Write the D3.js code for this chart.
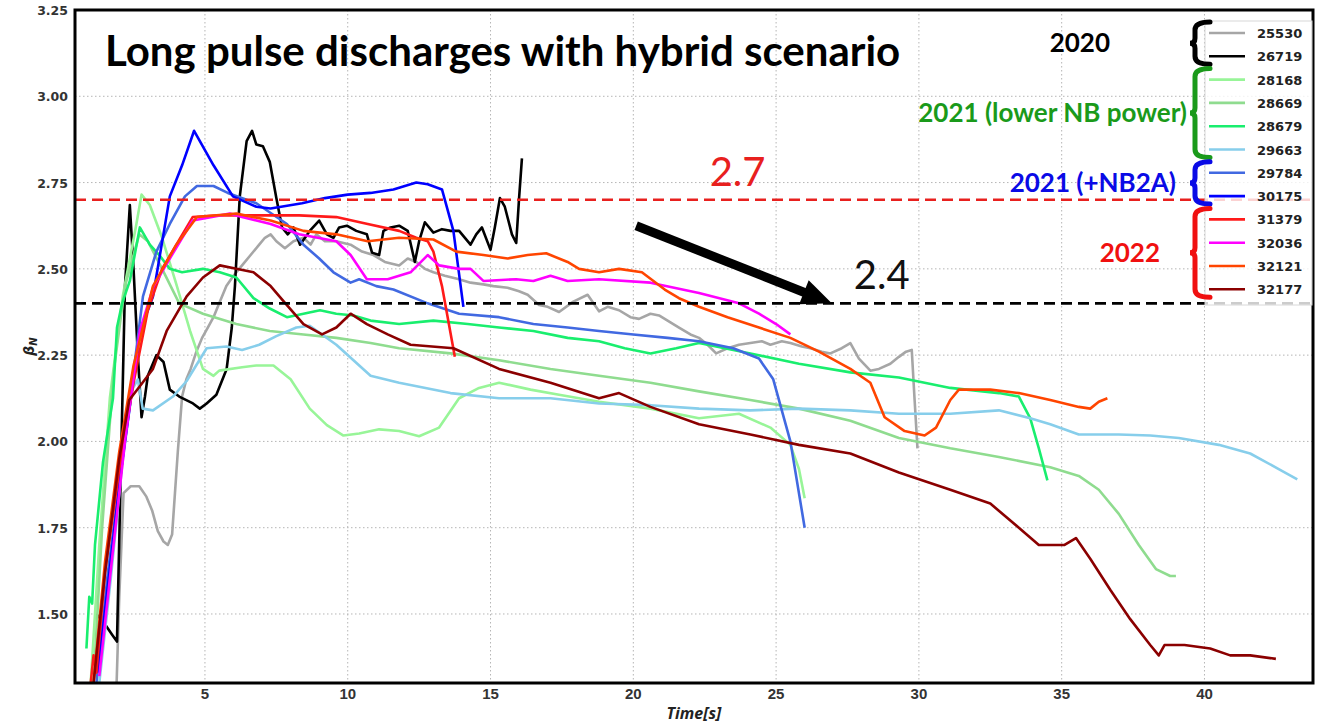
<!DOCTYPE html>
<html>
<head>
<meta charset="utf-8">
<script src="https://cdn.jsdelivr.net/npm/d3@7"></script>
<style>
  body { margin: 0; background: #fff; }
  svg { display: block; }
</style>
</head>
<body>
<div id="chart"></div>
<script>
// shot numbers and their line colours, in legend order
const shots = ["25530", "26719", "28168", "28669", "28679", "29663",
               "29784", "30175", "31379", "32036", "32121", "32177"];
const colors = ["#a6a6a6", "#000000", "#98f598", "#8fdc8f", "#19ee6e", "#87ceeb",
                "#4169e1", "#0000ff", "#ff1a1a", "#ff00ff", "#ff4500", "#8b0000"];

const xTicks = [5, 10, 15, 20, 25, 30, 35, 40];
const yTicks = [1.5, 1.75, 2.0, 2.25, 2.5, 2.75, 3.0, 3.25];
const refLevels = [2.7, 2.4];

// [time s, beta_N]
const s25530 = [[1.9,1.28],[2.0,1.55],[2.15,1.85],[2.4,1.87],[2.7,1.87],[2.95,1.84],[3.15,1.80],[3.35,1.74],[3.55,1.71],[3.7,1.70],[3.85,1.73],[3.95,1.85],[4.05,1.97],[4.2,2.13],[4.35,2.18],[4.5,2.21],[4.7,2.26],[4.9,2.30],[5.1,2.33],[5.3,2.36],[5.5,2.40],[5.75,2.45],[6.0,2.48],[6.3,2.51],[6.6,2.54],[6.9,2.57],[7.1,2.59],[7.3,2.60],[7.5,2.58],[7.8,2.56],[8.1,2.58],[8.45,2.59],[8.7,2.57],[8.9,2.60],[9.2,2.58],[9.6,2.58],[10.1,2.57],[10.5,2.55],[10.9,2.54],[11.3,2.52],[11.8,2.51],[12.1,2.53],[12.4,2.52],[12.7,2.50],[13.0,2.49],[13.4,2.48],[13.9,2.47],[14.3,2.46],[14.75,2.455],[15.1,2.45],[15.6,2.445],[16.0,2.435],[16.3,2.425],[16.7,2.395],[17.0,2.39],[17.4,2.375],[17.9,2.405],[18.4,2.425],[18.8,2.377],[19.1,2.39],[19.5,2.38],[19.9,2.36],[20.2,2.355],[20.6,2.37],[20.9,2.365],[21.3,2.345],[21.6,2.33],[22.0,2.31],[22.3,2.30],[22.6,2.28],[22.9,2.255],[23.3,2.27],[23.7,2.28],[24.1,2.285],[24.5,2.29],[24.8,2.28],[25.2,2.29],[25.5,2.285],[25.9,2.275],[26.2,2.27],[26.6,2.26],[26.9,2.255],[27.3,2.27],[27.6,2.285],[27.9,2.24],[28.3,2.205],[28.6,2.21],[29.0,2.225],[29.3,2.245],[29.55,2.26],[29.75,2.265],[29.85,2.12],[29.95,1.98]];
const s26719 = [[1.2,1.50],[1.5,1.47],[1.75,1.44],[1.92,1.42],[2.05,1.9],[2.2,2.45],[2.37,2.685],[2.5,2.50],[2.65,2.25],[2.78,2.07],[2.9,2.13],[3.0,2.19],[3.3,2.25],[3.55,2.23],[3.77,2.15],[4.1,2.13],[4.58,2.11],[4.82,2.095],[5.06,2.11],[5.4,2.135],[5.76,2.21],[5.94,2.33],[6.05,2.45],[6.22,2.71],[6.46,2.87],[6.65,2.90],[6.8,2.86],[7.03,2.855],[7.27,2.81],[7.5,2.705],[7.7,2.62],[7.9,2.60],[8.1,2.62],[8.33,2.57],[8.67,2.61],[9.0,2.64],[9.27,2.60],[9.5,2.59],[9.7,2.62],[9.97,2.625],[10.3,2.61],[10.67,2.60],[10.85,2.547],[11.1,2.54],[11.25,2.61],[11.5,2.62],[11.8,2.625],[12.1,2.61],[12.35,2.52],[12.5,2.58],[12.7,2.635],[13.0,2.605],[13.3,2.615],[13.6,2.61],[13.9,2.61],[14.3,2.57],[14.5,2.60],[14.7,2.62],[15.0,2.555],[15.15,2.62],[15.33,2.705],[15.5,2.68],[15.75,2.60],[15.9,2.575],[16.0,2.705],[16.1,2.82]];
const s28168 = [[1.0,1.30],[1.3,1.7],[1.67,2.125],[2.12,2.42],[2.6,2.63],[2.78,2.715],[3.07,2.685],[3.5,2.59],[4.0,2.455],[4.48,2.32],[4.93,2.21],[5.3,2.19],[5.5,2.205],[6.3,2.215],[6.8,2.22],[7.4,2.22],[8.0,2.18],[8.67,2.095],[9.27,2.047],[9.85,2.017],[10.4,2.023],[11.1,2.035],[11.8,2.03],[12.5,2.015],[13.2,2.04],[13.9,2.125],[14.6,2.155],[15.3,2.17],[16.4,2.15],[17.4,2.135],[18.8,2.115],[20.6,2.095],[22.3,2.067],[23.7,2.08],[24.8,2.04],[25.5,1.99],[25.8,1.92],[26.0,1.835]];
const s28669 = [[1.1,1.30],[1.4,1.75],[1.8,2.2],[2.2,2.45],[2.7,2.60],[3.0,2.58],[3.5,2.50],[4.1,2.40],[4.93,2.37],[6.1,2.34],[7.27,2.32],[8.45,2.31],[9.6,2.30],[10.8,2.285],[11.8,2.27],[13.6,2.255],[15.3,2.235],[17.1,2.21],[18.8,2.19],[20.6,2.17],[22.3,2.145],[24.1,2.12],[25.8,2.095],[27.6,2.06],[29.3,2.01],[31.1,1.98],[32.8,1.955],[34.6,1.925],[35.6,1.90],[36.3,1.86],[37.0,1.79],[37.7,1.70],[38.3,1.63],[38.8,1.61],[39.0,1.61]];
const s28679 = [[0.85,1.40],[0.95,1.55],[1.05,1.53],[1.15,1.70],[1.43,1.94],[1.78,2.125],[1.92,2.33],[2.1,2.40],[2.37,2.465],[2.72,2.62],[3.07,2.57],[3.4,2.54],[3.77,2.50],[4.2,2.49],[4.93,2.50],[5.52,2.49],[6.1,2.475],[6.7,2.415],[7.27,2.385],[7.87,2.36],[8.45,2.37],[9.03,2.38],[9.6,2.37],[10.2,2.365],[10.8,2.35],[11.8,2.34],[13.0,2.35],[14.2,2.34],[15.3,2.33],[16.5,2.32],[17.7,2.30],[18.8,2.29],[19.7,2.27],[20.6,2.255],[21.5,2.27],[22.3,2.285],[23.2,2.27],[24.1,2.255],[25.8,2.225],[27.6,2.20],[29.3,2.185],[31.1,2.155],[32.8,2.14],[33.5,2.13],[33.9,2.067],[34.2,1.98],[34.5,1.887]];
const s29663 = [[1.3,1.30],[1.7,1.6],[2.1,1.93],[2.45,2.15],[2.65,2.18],[2.82,2.095],[3.18,2.09],[3.88,2.13],[4.36,2.175],[5.06,2.27],[5.76,2.275],[6.3,2.265],[6.9,2.28],[7.5,2.305],[8.2,2.33],[8.67,2.335],[9.6,2.28],[10.8,2.19],[11.8,2.17],[13.6,2.14],[15.3,2.125],[17.1,2.125],[18.8,2.11],[20.6,2.105],[22.3,2.095],[24.1,2.09],[25.8,2.095],[27.6,2.09],[29.3,2.08],[31.1,2.08],[32.8,2.09],[33.9,2.067],[34.6,2.05],[35.6,2.02],[37.0,2.02],[38.1,2.017],[39.1,2.01],[40.5,1.99],[41.6,1.965],[42.6,1.92],[43.25,1.89]];
const s29784 = [[1.2,1.30],[1.6,1.62],[2.1,1.94],[2.5,2.2],[2.83,2.42],[3.3,2.55],[3.77,2.63],[4.3,2.71],[4.72,2.74],[5.3,2.74],[5.8,2.72],[6.8,2.69],[7.87,2.63],[8.45,2.57],[9.0,2.53],[9.5,2.49],[10.1,2.46],[10.4,2.47],[11.0,2.45],[11.6,2.44],[12.8,2.40],[13.9,2.37],[15.3,2.36],[16.5,2.34],[17.7,2.33],[18.8,2.32],[20.0,2.31],[21.2,2.30],[22.3,2.29],[23.5,2.27],[24.4,2.24],[24.9,2.18],[25.5,2.00],[26.0,1.75]];
const s30175 = [[1.25,1.33],[1.43,1.46],[2.1,1.94],[2.73,2.32],[3.18,2.42],[3.77,2.71],[4.2,2.80],[4.62,2.90],[5.3,2.80],[5.98,2.71],[6.8,2.68],[7.3,2.675],[8.4,2.69],[9.2,2.705],[10.0,2.715],[10.8,2.72],[11.6,2.73],[12.4,2.75],[12.8,2.745],[13.3,2.73],[13.7,2.61],[14.05,2.39]];
const s31379 = [[1.0,1.30],[1.1,1.38],[1.2,1.33],[1.5,1.62],[2.0,1.92],[2.5,2.17],[3.0,2.38],[3.5,2.50],[4.0,2.57],[4.57,2.65],[5.5,2.655],[7.3,2.655],[8.3,2.655],[9.6,2.65],[10.7,2.63],[11.8,2.61],[12.4,2.59],[12.8,2.58],[13.0,2.55],[13.3,2.45],[13.75,2.245]];
const s32036 = [[1.3,1.32],[1.8,1.7],[2.2,2.0],[2.72,2.32],[3.2,2.45],[3.77,2.53],[4.57,2.64],[5.87,2.66],[6.3,2.65],[7.3,2.63],[8.3,2.60],[9.6,2.58],[10.1,2.54],[10.67,2.47],[11.4,2.47],[12.2,2.49],[12.8,2.54],[13.2,2.51],[13.9,2.50],[14.3,2.50],[14.75,2.465],[15.9,2.47],[16.5,2.465],[17.1,2.48],[17.7,2.465],[18.8,2.47],[20.6,2.46],[22.3,2.43],[23.7,2.40],[24.4,2.37],[25.0,2.34],[25.5,2.31]];
const s32121 = [[1.1,1.30],[1.5,1.65],[2.0,1.97],[2.5,2.22],[3.18,2.45],[4.0,2.57],[4.72,2.65],[6.1,2.66],[7.3,2.64],[8.45,2.61],[9.6,2.60],[10.7,2.58],[11.8,2.59],[13.0,2.585],[13.8,2.55],[14.75,2.54],[15.6,2.53],[16.3,2.54],[16.95,2.545],[17.7,2.52],[18.1,2.50],[18.8,2.49],[19.5,2.50],[20.3,2.49],[21.1,2.44],[21.6,2.415],[22.3,2.39],[23.3,2.36],[24.4,2.33],[25.5,2.30],[26.5,2.26],[27.6,2.21],[28.3,2.17],[28.8,2.07],[29.5,2.03],[30.2,2.017],[30.6,2.04],[31.1,2.12],[31.4,2.15],[32.5,2.15],[33.5,2.14],[34.6,2.12],[35.6,2.10],[36.0,2.095],[36.3,2.115],[36.6,2.125]];
const s32177 = [[1.1,1.30],[1.5,1.62],[2.0,1.95],[2.35,2.12],[2.72,2.16],[3.18,2.21],[3.66,2.32],[4.36,2.42],[4.93,2.475],[5.52,2.51],[6.1,2.50],[6.7,2.49],[7.3,2.45],[7.87,2.395],[8.45,2.34],[9.1,2.31],[9.6,2.33],[10.1,2.37],[10.67,2.34],[11.4,2.31],[12.2,2.28],[13.7,2.27],[15.3,2.21],[17.1,2.17],[18.8,2.125],[19.5,2.14],[20.6,2.10],[22.3,2.05],[24.1,2.02],[25.8,1.99],[27.6,1.965],[29.3,1.91],[31.1,1.86],[32.5,1.82],[33.5,1.75],[34.2,1.70],[35.1,1.70],[35.5,1.72],[36.0,1.66],[36.7,1.57],[37.4,1.485],[38.1,1.41],[38.4,1.38],[38.6,1.41],[39.3,1.41],[40.2,1.40],[40.9,1.38],[41.6,1.38],[42.5,1.37]];

const series = [s25530, s26719, s28168, s28669, s28679, s29663,
                s29784, s30175, s31379, s32036, s32121, s32177];

// campaign groups: label, first and last legend row
const groups = [
  { label: "2020", color: "#000", first: 0, last: 1, right: 1110 },
  { label: "2021 (lower NB power)", color: "#1a9a1a", first: 2, last: 5, right: 1187 },
  { label: "2021 (+NB2A)", color: "#0a0ae6", first: 6, last: 7, right: 1176 },
  { label: "2022", color: "#f01010", first: 8, last: 11, right: 1160 }
];

const W = 1329, H = 724;
const margin = { top: 10, right: 16, bottom: 41, left: 75 };

const x = d3.scaleLinear().domain([0.45, 43.8]).range([margin.left, W - margin.right]);
const y = d3.scaleLinear().domain([1.30, 3.25]).range([H - margin.bottom, margin.top]);

const svg = d3.select("#chart").append("svg")
  .attr("width", W).attr("height", H);

svg.append("defs").append("clipPath").attr("id", "plot")
  .append("rect")
  .attr("x", margin.left).attr("y", margin.top)
  .attr("width", W - margin.left - margin.right)
  .attr("height", H - margin.top - margin.bottom);

// grid
const grid = svg.append("g");
grid.selectAll(".gx").data(xTicks).enter().append("line")
  .attr("x1", d => x(d)).attr("x2", d => x(d))
  .attr("y1", margin.top).attr("y2", H - margin.bottom)
  .attr("stroke", "#b5b5b5").attr("stroke-width", 1).attr("stroke-dasharray", "1.5,2.5");
grid.selectAll(".gy").data(yTicks).enter().append("line")
  .attr("x1", margin.left).attr("x2", W - margin.right)
  .attr("y1", d => y(d)).attr("y2", d => y(d))
  .attr("stroke", "#b5b5b5").attr("stroke-width", 1).attr("stroke-dasharray", "1.5,2.5");

// shots
const line = d3.line().x(d => x(d[0])).y(d => y(d[1]));
svg.append("g").attr("clip-path", "url(#plot)")
  .selectAll("path").data(series).enter().append("path")
  .attr("d", line)
  .attr("fill", "none")
  .attr("stroke", (d, i) => colors[i])
  .attr("stroke-width", 2.6)
  .attr("stroke-linejoin", "round");

// reference levels
svg.selectAll(".ref").data(refLevels).enter().append("line")
  .attr("x1", margin.left).attr("x2", W - margin.right)
  .attr("y1", d => y(d)).attr("y2", d => y(d))
  .attr("stroke", (d, i) => i === 0 ? "#e8201e" : "#000")
  .attr("stroke-width", 2.6)
  .attr("stroke-dasharray", "11,6");

svg.append("text").attr("x", x(23.65)).attr("y", y(2.7) - 14)
  .attr("text-anchor", "middle").attr("fill", "#e8201e")
  .style("font", "40px Lato, 'Open Sans', sans-serif").text("2.7");
svg.append("text").attr("x", x(28.7)).attr("y", y(2.4) - 14)
  .attr("text-anchor", "middle").attr("fill", "#111")
  .style("font", "40px Lato, 'Open Sans', sans-serif").text("2.4");

// arrow towards the 2.4 level
const a0 = [x(20.1), y(2.625)], a1 = [x(26.95), y(2.40)];
const ang = Math.atan2(a1[1] - a0[1], a1[0] - a0[0]);
const headL = 30, headW = 13;
const base = [a1[0] - headL * Math.cos(ang), a1[1] - headL * Math.sin(ang)];
svg.append("line")
  .attr("x1", a0[0]).attr("y1", a0[1]).attr("x2", base[0] + 2 * Math.cos(ang)).attr("y2", base[1] + 2 * Math.sin(ang))
  .attr("stroke", "#000").attr("stroke-width", 9);
svg.append("path")
  .attr("d", `M${a1[0]},${a1[1]}L${base[0] - headW * Math.sin(ang)},${base[1] + headW * Math.cos(ang)}L${base[0] + headW * Math.sin(ang)},${base[1] - headW * Math.cos(ang)}Z`)
  .attr("fill", "#000");

// frame
svg.append("rect")
  .attr("x", margin.left).attr("y", margin.top)
  .attr("width", W - margin.left - margin.right)
  .attr("height", H - margin.top - margin.bottom)
  .attr("fill", "none").attr("stroke", "#000").attr("stroke-width", 3);

// tick labels
svg.selectAll(".xt").data(xTicks).enter().append("text")
  .attr("x", d => x(d)).attr("y", 699)
  .attr("text-anchor", "middle").attr("fill", "#333")
  .style("font", "bold 15px 'Liberation Sans Narrow', 'Liberation Sans', sans-serif")
  .text(d => d);
svg.selectAll(".yt").data(yTicks).enter().append("text")
  .attr("x", 68).attr("y", d => y(d) + 5)
  .attr("text-anchor", "end").attr("fill", "#333")
  .style("font", "bold 12.5px 'DejaVu Sans', sans-serif")
  .text(d => d.toFixed(2));

svg.append("text").attr("x", (margin.left + W - margin.right) / 2).attr("y", 719)
  .attr("text-anchor", "middle").attr("fill", "#222")
  .style("font", "italic bold 16px 'Open Sans', sans-serif").text("Time[s]");
const yl = svg.append("text")
  .attr("transform", `translate(34,${(margin.top + H - margin.bottom) / 2}) rotate(-90)`)
  .attr("text-anchor", "middle").attr("fill", "#222")
  .style("font", "italic bold 14px 'DejaVu Sans', sans-serif");
yl.append("tspan").text("β");
yl.append("tspan").attr("dy", 3).style("font-size", "10px").text("N");

// title
svg.append("text").attr("x", 105).attr("y", 66)
  .attr("fill", "#000")
  .style("font", "bold 42px Lato, 'Open Sans', sans-serif")
  .text("Long pulse discharges with hybrid scenario");

// legend
const rowY = i => 33 + i * 23.3;
const leg = svg.append("g");
leg.append("rect").attr("x", 1205).attr("y", 21).attr("width", 107).attr("height", 284)
  .attr("fill", "#fff").attr("fill-opacity", 0.8).attr("stroke", "#d8d8d8");
leg.selectAll(".ll").data(shots).enter().append("line")
  .attr("x1", 1209).attr("x2", 1245)
  .attr("y1", (d, i) => rowY(i)).attr("y2", (d, i) => rowY(i))
  .attr("stroke", (d, i) => colors[i]).attr("stroke-width", 2.6);
leg.selectAll(".lt").data(shots).enter().append("text")
  .attr("x", 1257).attr("y", (d, i) => rowY(i) + 5)
  .attr("fill", "#222")
  .style("font", "bold 13px 'DejaVu Sans', sans-serif")
  .text(d => d);

// group braces and labels
const braceX = 1195;
groups.forEach(g => {
  const y0 = rowY(g.first) - 11, y1 = rowY(g.last) + 8, ym = (y0 + y1) / 2;
  const xl = braceX, xr = braceX + 15;
  svg.append("path")
    .attr("d", `M${xr},${y0}Q${xl},${y0} ${xl},${y0 + 8}L${xl},${ym - 5}Q${xl},${ym} ${xl - 5},${ym}Q${xl},${ym} ${xl},${ym + 5}L${xl},${y1 - 8}Q${xl},${y1} ${xr},${y1}`)
    .attr("fill", "none").attr("stroke", g.color).attr("stroke-width", 5)
    .attr("stroke-linecap", "round");
  svg.append("text")
    .attr("x", g.right).attr("y", ym + 9)
    .attr("text-anchor", "end").attr("fill", g.color)
    .style("font", "bold 26px Lato, 'Open Sans', sans-serif")
    .text(g.label);
});
</script>
</body>
</html>
